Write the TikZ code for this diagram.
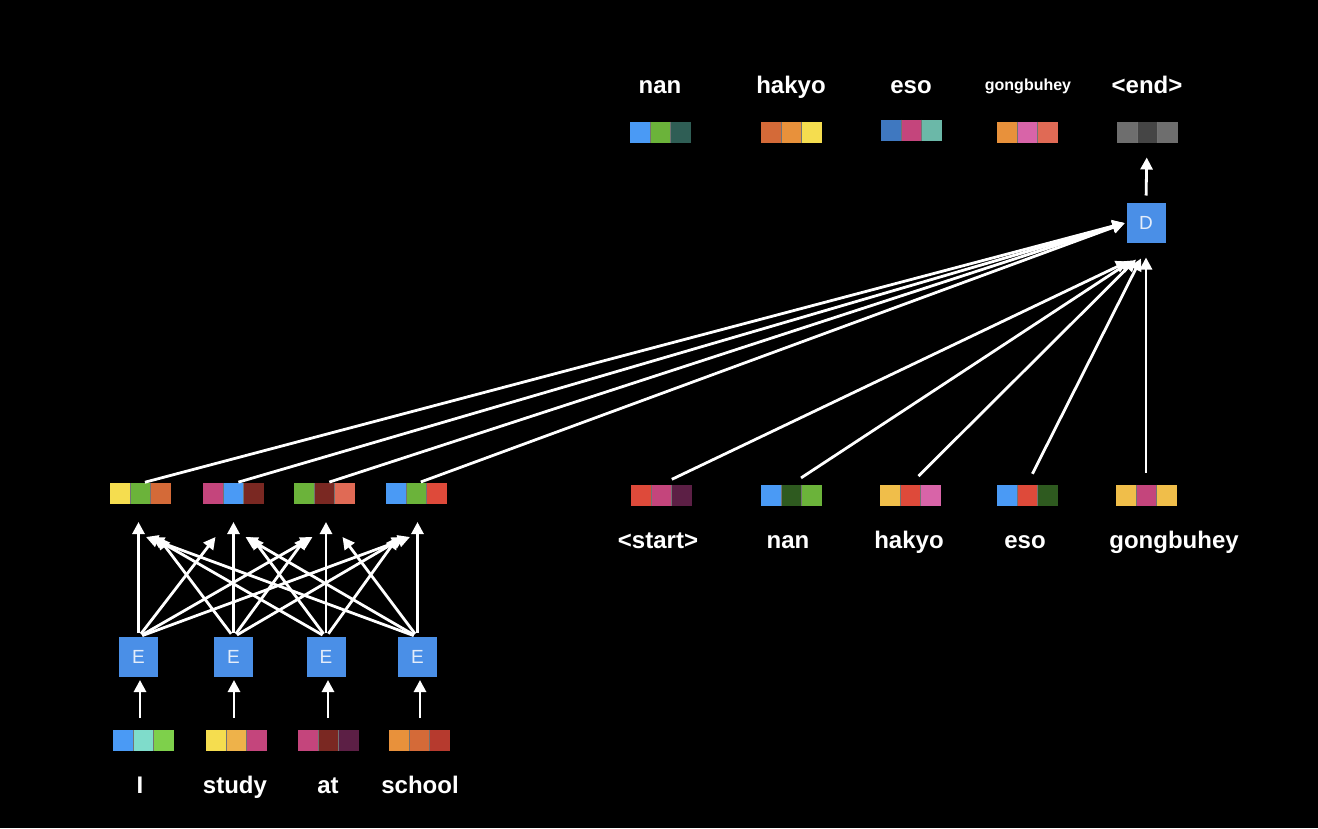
\documentclass[tikz,border=0pt]{standalone}
\usepackage{fontspec}
\setmainfont{Liberation Sans}
\usetikzlibrary{arrows.meta,calc}
\definecolor{cBlue}{HTML}{4A9AF5}
\definecolor{cBox}{HTML}{4A8FE7}
\definecolor{cBoxTxt}{HTML}{E4EDFA}
\definecolor{cTeal}{HTML}{7FDCCB}
\definecolor{cLGreen}{HTML}{7ED04B}
\definecolor{cGreen}{HTML}{6BB33A}
\definecolor{cDGreen}{HTML}{2E5A1F}
\definecolor{cDTeal}{HTML}{2F5E55}
\definecolor{cYellow}{HTML}{F5DD4F}
\definecolor{cYOrange}{HTML}{EEB24A}
\definecolor{cGold}{HTML}{F0BE4A}
\definecolor{cPink}{HTML}{C4457C}
\definecolor{cHPink}{HTML}{D864A8}
\definecolor{cDRed}{HTML}{7A2822}
\definecolor{cDPurple}{HTML}{5C1F45}
\definecolor{cOrange}{HTML}{E8913B}
\definecolor{cROrange}{HTML}{D46A38}
\definecolor{cBrick}{HTML}{B63A2E}
\definecolor{cSalmon}{HTML}{E06A55}
\definecolor{cRed}{HTML}{DE4A3A}
\definecolor{cSteel}{HTML}{3F78C0}
\definecolor{cSea}{HTML}{6BB8A8}
\definecolor{cGreyA}{HTML}{6E6E6E}
\definecolor{cGreyB}{HTML}{454545}
\tikzset{
  stripnode/.style={minimum width=61pt, minimum height=21pt, inner sep=0pt, outer sep=0pt},
  sqsep/.style={draw=black!55, line width=0.6pt},
  cell/.style={fill=cBox, minimum width=39pt, minimum height=40pt, inner sep=0pt, outer sep=0pt,
    text=cBoxTxt, font=\fontsize{19}{21}\selectfont},
  lbl/.style={text=white, font=\fontsize{24}{26}\selectfont\bfseries, anchor=base, inner sep=0pt},
  smalllbl/.style={text=white, font=\fontsize{16}{18}\selectfont\bfseries, anchor=base, inner sep=0pt},
  arr/.style={draw=white, line width=2.8pt, -{Triangle[length=12pt,width=12pt]}}
}
\newcommand{\mystrip}[5]{%
  \node[stripnode] (#1) at (#2) {};
  \fill[#3] (#1.north west) rectangle ++(20.33,21);
  \fill[#4] ($(#1.north west)+(20.33,0)$) rectangle ++(20.34,21);
  \fill[#5] ($(#1.north west)+(40.67,0)$) rectangle ++(20.33,21);
  \draw[sqsep] ($(#1.north west)+(20.33,0)$) -- ++(0,21);
  \draw[sqsep] ($(#1.north west)+(40.67,0)$) -- ++(0,21);
}
\begin{document}
\begin{tikzpicture}[x=1pt,y=-1pt]
\fill[black] (0,0) rectangle (1318,828);
\useasboundingbox (0,0) rectangle (1318,828);

% encoder inputs
\mystrip{in1}{143.5,740.5}{cBlue}{cTeal}{cLGreen}
\mystrip{in2}{236.5,740.5}{cYellow}{cYOrange}{cPink}
\mystrip{in3}{328,740.5}{cPink}{cDRed}{cDPurple}
\mystrip{in4}{419.5,740.5}{cOrange}{cROrange}{cBrick}
\node[lbl] (w1) at (140,793) {I};
\node[lbl] (w2) at (235,793) {study};
\node[lbl] (w3) at (328,793) {at};
\node[lbl] (w4) at (420,793) {school};

% encoder cells
\node[cell] (E1) at (138.5,657) {E};
\node[cell] (E2) at (233.5,657) {E};
\node[cell] (E3) at (326,657) {E};
\node[cell] (E4) at (417.5,657) {E};

\draw[arr, shorten <=12pt, shorten >=3pt] (in1.north -| 140,0) -- (E1.south -| 140,0);
\draw[arr, shorten <=12pt, shorten >=3pt] (in2.north -| 234,0) -- (E2.south -| 234,0);
\draw[arr, shorten <=12pt, shorten >=3pt] (in3.north -| 328,0) -- (E3.south -| 328,0);
\draw[arr, shorten <=12pt, shorten >=3pt] (in4.north -| 420,0) -- (E4.south -| 420,0);

% hidden states
\mystrip{h1}{140,493.5}{cYellow}{cGreen}{cROrange}
\mystrip{h2}{233.5,493.5}{cPink}{cBlue}{cDRed}
\mystrip{h3}{324.5,493.5}{cGreen}{cDRed}{cSalmon}
\mystrip{h4}{416,493.5}{cBlue}{cGreen}{cRed}

% all-to-all arrows
\foreach \i in {1,2,3,4}{
  \foreach \j in {1,2,3,4}{
    \ifnum\i=\j
      \draw[arr, shorten <=4pt] (E\i.north) -- ($(E\i.north |- h\j.south)+(0,18)$);
    \else
      \pgfmathsetmacro\off{(\i>\j ? 1 : -1)*(24-6*abs(\i-\j))}
      \draw[arr, shorten <=4pt] (E\i.north) -- ($(h\j.south)+(\off,33)$);
    \fi
  }
}

% decoder
\node[cell] (D) at (1146,222.5) {D};

\foreach \k in {1,2,3,4}{
  \draw[arr, shorten <=3pt, shorten >=2pt] ($(h\k.north)+(2,0)$) -- (D.west);
}

% decoder inputs
\mystrip{d1}{661,495}{cRed}{cPink}{cDPurple}
\mystrip{d2}{791,495}{cBlue}{cDGreen}{cGreen}
\mystrip{d3}{910,495}{cGold}{cRed}{cHPink}
\mystrip{d4}{1027,495}{cBlue}{cRed}{cDGreen}
\mystrip{d5}{1146,495}{cGold}{cPink}{cGold}
\node[lbl] (t1) at (658,548) {<start>};
\node[lbl] (t2) at (788,548) {nan};
\node[lbl] (t3) at (909,548) {hakyo};
\node[lbl] (t4) at (1025,548) {eso};
\node[lbl] (t5) at (1174,548) {gongbuhey};

\draw[arr, shorten <=12pt] (d1.north) -- ($(D.south)+(-18,19)$);
\draw[arr, shorten <=12pt] (d2.north) -- ($(D.south)+(-14,18)$);
\draw[arr, shorten <=12pt] (d3.north) -- ($(D.south)+(-10,17)$);
\draw[arr, shorten <=12pt] (d4.north) -- ($(D.south)+(-5,16)$);
\draw[arr, shorten <=12pt] (d5.north) -- ($(D.south)+(0,15)$);

% outputs
\mystrip{o1}{660,132}{cBlue}{cGreen}{cDTeal}
\mystrip{o2}{791,132}{cROrange}{cOrange}{cYellow}
\mystrip{o3}{911,130}{cSteel}{cPink}{cSea}
\mystrip{o4}{1027,132}{cOrange}{cHPink}{cSalmon}
\mystrip{o5}{1147,132}{cGreyA}{cGreyB}{cGreyA}
\node[lbl] (u1) at (660,93) {nan};
\node[lbl] (u2) at (791,93) {hakyo};
\node[lbl] (u3) at (911,93) {eso};
\node[smalllbl] (u4) at (1028,90) {gongbuhey};
\node[lbl] (u5) at (1147,93) {<end>};

\draw[arr, shorten <=7pt, shorten >=15pt] (D.north) -- (o5.south);
\end{tikzpicture}
\end{document}
